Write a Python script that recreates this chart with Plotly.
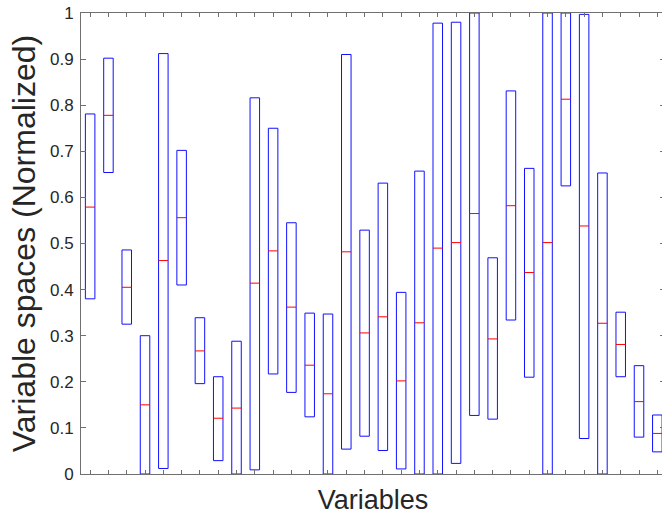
import plotly.graph_objects as go

variables = list(range(1, 33))
low = [0.380, 0.654, 0.325, 0.000, 0.012, 0.410, 0.196, 0.029, 0.000, 0.009, 0.217, 0.177,
       0.124, 0.000, 0.054, 0.082, 0.051, 0.011, 0.000, 0.000, 0.023, 0.127, 0.119, 0.334,
       0.210, 0.000, 0.625, 0.077, 0.000, 0.211, 0.080, 0.048]
high = [0.781, 0.902, 0.486, 0.300, 0.912, 0.702, 0.339, 0.211, 0.288, 0.816, 0.750, 0.545,
        0.349, 0.347, 0.910, 0.529, 0.631, 0.394, 0.657, 0.978, 0.980, 1.000, 0.469, 0.831,
        0.663, 1.000, 1.000, 0.997, 0.653, 0.351, 0.235, 0.128]
median = [0.579, 0.778, 0.405, 0.150, 0.463, 0.556, 0.267, 0.121, 0.143, 0.414, 0.484, 0.362,
          0.236, 0.174, 0.482, 0.306, 0.341, 0.202, 0.328, 0.490, 0.502, 0.565, 0.293, 0.582,
          0.437, 0.502, 0.813, 0.538, 0.327, 0.281, 0.157, 0.088]
y_ticks = [0, 0.1, 0.2, 0.3, 0.4, 0.5, 0.6, 0.7, 0.8, 0.9, 1]

BOX_W = 0.52
FONT = "Arial, Liberation Sans, Helvetica, sans-serif"
TXT = "#262626"
AX = "#707070"

# box outlines (closed rectangles, one path per variable)
bx, by = [], []
for v, lo, hi in zip(variables, low, high):
    a, b = v - BOX_W / 2, v + BOX_W / 2
    bx += [a, b, b, a, a, None]
    by += [lo, lo, hi, hi, lo, None]

# median segments
mx, my = [], []
for v, m in zip(variables, median):
    mx += [v - BOX_W / 2, v + BOX_W / 2, None]
    my += [m, m, None]

fig = go.Figure()
fig.add_trace(go.Scatter(
    x=bx, y=by, mode="lines",
    line=dict(color="#1010ff", width=1),
    cliponaxis=False, hoverinfo="skip", showlegend=False,
))
fig.add_trace(go.Scatter(
    x=mx, y=my, mode="lines",
    line=dict(color="#ff0000", width=1),
    cliponaxis=False, hoverinfo="skip", showlegend=False,
))

# the reference is a crop of a slightly wider figure: the right spine lies
# just past the window's right edge
fig.update_layout(
    width=670, height=515,
    margin=dict(l=81, r=5, t=13, b=41, autoexpand=False),
    paper_bgcolor="white", plot_bgcolor="white",
    font=dict(family=FONT, color=TXT),
)
fig.update_xaxes(
    range=[0.5, 32.42],
    tickvals=variables,
    showticklabels=False,
    automargin=False,
    ticks="inside", ticklen=4, tickcolor=AX, tickwidth=1,
    showline=True, linecolor=AX, linewidth=1, mirror="ticks",
    showgrid=False, zeroline=False,
    title=dict(text="Variables", font=dict(size=27, color=TXT), standoff=17),
)
fig.update_yaxes(
    range=[0, 1],
    tickvals=y_ticks,
    ticktext=[f"{t:g}" for t in y_ticks],
    tickfont=dict(size=17, color=TXT),
    ticklabelstandoff=3,
    ticklabeloverflow="allow",
    automargin=False,
    ticks="inside", ticklen=5, tickcolor=AX, tickwidth=1,
    showline=True, linecolor=AX, linewidth=1, mirror="ticks",
    showgrid=False, zeroline=False,
    title=dict(text="Variable spaces (Normalized)", font=dict(size=32, color=TXT), standoff=4),
)

fig.write_html(
    "out.html",
    config={"displayModeBar": False},
    post_script="document.body.style.margin='0px';document.body.style.overflow='hidden';",
)
